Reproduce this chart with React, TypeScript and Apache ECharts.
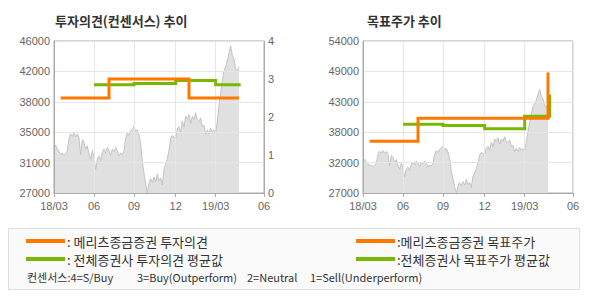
import React, { useEffect, useRef } from 'react';
import * as echarts from 'echarts';

// x positions are period indices (0 = 18/03 ... 126 = 19/06)
const periodCount = 127;
const tickIndex = [0, 24, 48, 73, 97, 126];
const tickLabels = ['18/03', '06', '09', '12', '19/03', '06'];

// share price (KRW), one value per period
const prices = [
  32700, 33000, 32500, 32200, 31800, 32000, 31700, 31900, 32300, 33800,
  34400, 34100, 34500, 34000, 34400, 33900, 31800, 33700, 33300, 32500,
  32900, 31900, 31200, 32300, 31500, 29900, 31300, 31600, 31000, 32100,
  32500, 32000, 32700, 32300, 31700, 32500, 32200, 32700, 32300, 31600,
  32000, 31800, 32300, 33900, 34500, 34200, 34800, 35000, 35300, 34700,
  34900, 34200, 33200, 30800, 29500, 28100, 27000, 28300, 28800, 28300,
  29000, 28400, 29400, 28500, 28900, 28000, 30000, 30600, 31300, 32300,
  33800, 34200, 34000, 33800, 35000, 35300, 34600, 36000, 35200, 36600,
  36200, 36800, 35700, 36600, 36200, 37000, 36100, 35900, 36400, 35300,
  35500, 34300, 34900, 34400, 35100, 34600, 34900, 34500, 36000, 38000,
  39500, 41000, 42300, 42800, 43500, 44500, 45400, 44200, 43700, 42500,
  42200, 42800,
];

// [period index, value] at each change
const opinionMeritz = [[4, 2.5], [33, 3], [81, 2.5], [111, 2.5]];
const opinionAverage = [[24, 2.85], [48, 2.88], [73, 2.96], [97, 2.85], [112, 2.85]];
const targetMeritz = [[4, 36200], [33, 40300], [111, 48400]];
const targetAverage = [[24, 39200], [48, 39000], [73, 38400], [97, 40650], [112, 44500]];

const legendLeft = [': 메리츠종금증권 투자의견', ': 전체증권사 투자의견 평균값'];
const legendRight = [':메리츠종금증권 목표주가', ':전체증권사 목표주가 평균값'];
const consensusNotes = ['컨센서스:4=S/Buy', '3=Buy(Outperform)', '2=Neutral', '1=Sell(Underperform)'];

const ORANGE = '#ff7800';
const GREEN = '#78b800';
const AXIS = '#ababab';
const GRID = '#e6e6e6';
const LABEL = '#666';
const NUMFONT = 'Liberation Sans, Arial, sans-serif';
const KFONT = '"Noto Sans CJK KR", sans-serif';

const categories = Array.from({ length: periodCount }, (_, i) => String(i));
const isTick = (i: number) => tickIndex.includes(i);

function xAxis(gridIndex: number) {
  return {
    type: 'category',
    gridIndex,
    data: categories,
    boundaryGap: false,
    z: 3,
    axisLine: { lineStyle: { color: AXIS } },
    axisTick: { show: true, interval: isTick, length: 4, lineStyle: { color: AXIS } },
    axisLabel: {
      interval: isTick,
      formatter: (_v: string, i: number) => {
        const k = tickIndex.indexOf(i);
        return k >= 0 ? tickLabels[k] : '';
      },
      color: LABEL,
      fontSize: 11,
      fontFamily: NUMFONT,
      margin: 7,
    },
    splitLine: { show: true, interval: isTick, lineStyle: { color: GRID } },
  };
}

function priceAxis(gridIndex: number, min: number, max: number, interval: number) {
  return {
    type: 'value',
    gridIndex,
    min,
    max,
    interval,
    z: 3,
    axisLine: { show: true, lineStyle: { color: AXIS } },
    axisTick: { show: false },
    axisLabel: {
      formatter: (v: number) => String(Math.round(v / 1000) * 1000),
      color: LABEL,
      fontSize: 11,
      fontFamily: NUMFONT,
      margin: 4,
    },
    splitLine: { show: true, lineStyle: { color: GRID } },
  };
}

function priceSeries(xi: number, yi: number) {
  return {
    type: 'line',
    xAxisIndex: xi,
    yAxisIndex: yi,
    data: prices.map((p, i) => [i, p]),
    symbol: 'none',
    z: 1,
    lineStyle: { color: '#c3c3c3', width: 1 },
    areaStyle: { color: '#e0e0e0', opacity: 1 },
  };
}

function stepSeries(xi: number, yi: number, data: number[][], color: string) {
  return {
    type: 'line',
    xAxisIndex: xi,
    yAxisIndex: yi,
    data,
    step: 'end',
    symbol: 'none',
    z: 5,
    lineStyle: { color, width: 3, cap: 'butt', join: 'miter' },
  };
}

export default function App() {
  const ref = useRef<HTMLDivElement>(null);
  useEffect(() => {
    document.body.style.margin = '0';
    const chart = echarts.init(ref.current!, null, { renderer: 'svg' });

    const legendGraphics: any[] = [
      {
        type: 'rect',
        shape: { x: 8.5, y: 228.5, width: 571, height: 61 },
        style: { fill: '#fafafa', stroke: '#dedede', lineWidth: 1 },
      },
    ];
    const rowsY = [241, 259];
    [ORANGE, GREEN].forEach((c, k) => {
      legendGraphics.push({
        type: 'line',
        shape: { x1: 26, y1: rowsY[k], x2: 65, y2: rowsY[k] },
        style: { stroke: c, lineWidth: 4 },
      });
      legendGraphics.push({
        type: 'text',
        x: 67,
        y: rowsY[k],
        style: { text: legendLeft[k], font: `13px ${KFONT}`, fill: '#333', verticalAlign: 'middle' },
      });
      legendGraphics.push({
        type: 'line',
        shape: { x1: 356, y1: rowsY[k], x2: 395, y2: rowsY[k] },
        style: { stroke: c, lineWidth: 4 },
      });
      legendGraphics.push({
        type: 'text',
        x: 397,
        y: rowsY[k],
        style: { text: legendRight[k], font: `13px ${KFONT}`, fill: '#333', verticalAlign: 'middle' },
      });
    });
    const noteX = [27, 137, 247, 310];
    consensusNotes.forEach((t, k) => {
      legendGraphics.push({
        type: 'text',
        x: noteX[k],
        y: 277,
        style: { text: t, font: `11px ${KFONT}`, fill: '#333', verticalAlign: 'middle' },
      });
    });

    chart.setOption({
      animation: false,
      grid: [
        { left: 54, top: 41, width: 210, height: 152, show: true, borderColor: AXIS, borderWidth: 1, backgroundColor: 'transparent' },
        { left: 363, top: 41, width: 210, height: 152, show: true, borderColor: AXIS, borderWidth: 1, backgroundColor: 'transparent' },
      ],
      xAxis: [xAxis(0), xAxis(1)],
      yAxis: [
        priceAxis(0, 27000, 46000, 3800),
        {
          type: 'value',
          gridIndex: 0,
          position: 'right',
          min: 0,
          max: 4,
          interval: 1,
          z: 3,
          axisLine: { show: true, lineStyle: { color: AXIS } },
          axisTick: { show: false },
          axisLabel: { color: LABEL, fontSize: 11, fontFamily: NUMFONT, margin: 4 },
          splitLine: { show: false },
        },
        priceAxis(1, 27000, 54000, 5400),
      ],
      series: [
        priceSeries(0, 0),
        stepSeries(0, 1, opinionAverage, GREEN),
        stepSeries(0, 1, opinionMeritz, ORANGE),
        priceSeries(1, 2),
        stepSeries(1, 2, targetAverage, GREEN),
        stepSeries(1, 2, targetMeritz, ORANGE),
      ],
      graphic: [
        {
          type: 'text',
          x: 55,
          y: 20,
          style: { text: '투자의견(컨센서스) 추이', font: `bold 13px ${KFONT}`, fill: '#333', verticalAlign: 'middle' },
        },
        {
          type: 'text',
          x: 367,
          y: 20,
          style: { text: '목표주가 추이', font: `bold 13px ${KFONT}`, fill: '#333', verticalAlign: 'middle' },
        },
        ...legendGraphics,
      ],
    });
    return () => chart.dispose();
  }, []);
  return <div ref={ref} style={{ width: 590, height: 300 }} />;
}
